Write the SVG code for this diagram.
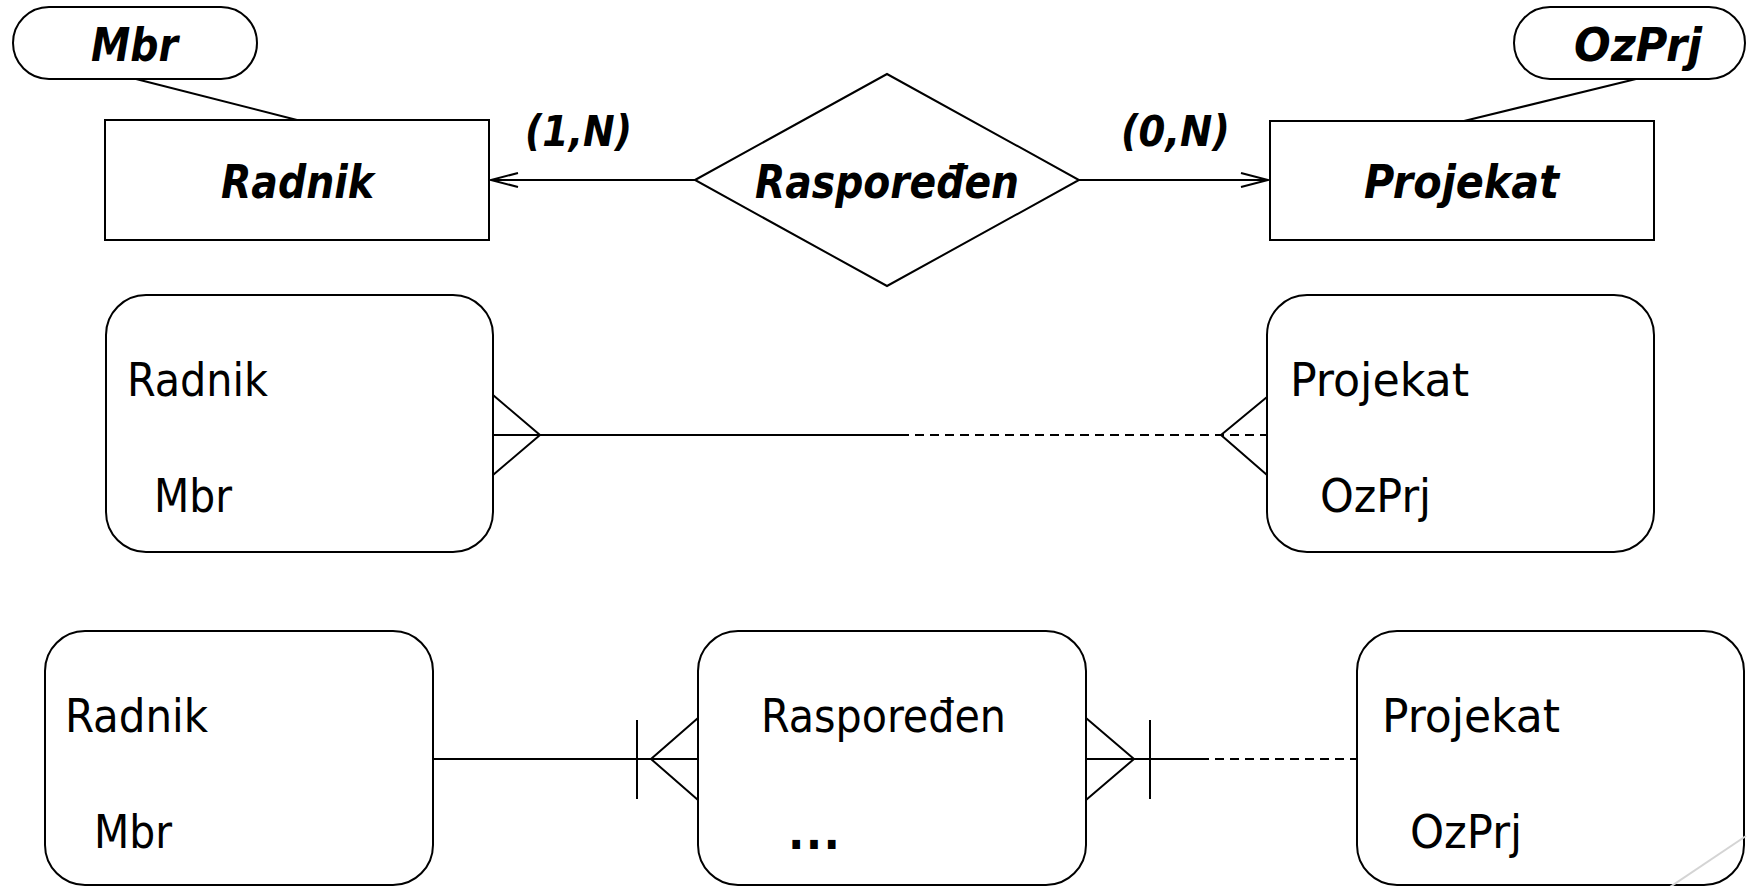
<svg xmlns="http://www.w3.org/2000/svg" width="1747" height="886" viewBox="0 0 1747 886">
<style>
.shape{fill:#fff;stroke:#000;stroke-width:2}
.ln{fill:none;stroke:#000;stroke-width:2}
.dash{fill:none;stroke:#000;stroke-width:2;stroke-dasharray:9 6}
.bi{font-family:"DejaVu Sans Condensed","DejaVu Sans",sans-serif;font-weight:bold;font-style:italic;font-size:47px;fill:#000}
.card{font-family:"DejaVu Sans Condensed","DejaVu Sans",sans-serif;font-size:46px;fill:#000}
</style>
<defs>
<marker id="open" markerUnits="userSpaceOnUse" markerWidth="32" markerHeight="18" refX="29" refY="9" orient="auto">
<path d="M2,2 L29,9 L2,16" fill="none" stroke="#000" stroke-width="2"/>
</marker>
</defs>
<rect width="1747" height="886" fill="#fff"/>
<g id="connectors">
<line class="ln" x1="136" y1="79" x2="297" y2="120"/>
<line class="ln" x1="1636" y1="79" x2="1464" y2="121"/>
<line class="ln" x1="695" y1="180" x2="491" y2="180" marker-end="url(#open)"/>
<line class="ln" x1="1079" y1="180" x2="1268" y2="180" marker-end="url(#open)"/>
<line class="ln" x1="493" y1="435" x2="900" y2="435"/>
<line class="dash" x1="900" y1="435" x2="1267" y2="435"/>
<polyline class="ln" points="493,395 540,435 493,475"/>
<polyline class="ln" points="1267,397 1221,435 1267,475"/>
<line class="ln" x1="433" y1="759" x2="698" y2="759"/>
<line class="ln" x1="637" y1="720" x2="637" y2="799"/>
<polyline class="ln" points="698,718 651,759 698,800"/>
<line class="ln" x1="1086" y1="759" x2="1200" y2="759"/>
<line class="dash" x1="1200" y1="759" x2="1357" y2="759"/>
<polyline class="ln" points="1086,718 1134,759 1086,800"/>
<line class="ln" x1="1150" y1="720" x2="1150" y2="799"/>
</g>
<g id="mbr-attr">
<rect class="shape" x="13" y="7" width="244" height="72" rx="36"/>
<text class="bi" x="91" y="61" textLength="87" lengthAdjust="spacingAndGlyphs">Mbr</text>
</g>
<g id="ozprj-attr">
<rect class="shape" x="1514" y="7" width="231" height="72" rx="36"/>
<text class="bi" x="1574" y="61" textLength="128" lengthAdjust="spacingAndGlyphs">OzPrj</text>
</g>
<g id="radnik-entity">
<rect class="shape" x="105" y="120" width="384" height="120"/>
<text class="bi" x="221" y="198" textLength="153" lengthAdjust="spacingAndGlyphs">Radnik</text>
</g>
<g id="projekat-entity">
<rect class="shape" x="1270" y="121" width="384" height="119"/>
<text class="bi" x="1364" y="198" textLength="195" lengthAdjust="spacingAndGlyphs">Projekat</text>
</g>
<g id="rasporeden-rel">
<polygon class="shape" points="695,180 887,74 1079,180 887,286"/>
<text class="bi" x="755" y="198" textLength="264" lengthAdjust="spacingAndGlyphs">Raspoređen</text>
</g>
<g id="card-1n">
<text class="bi" style="font-size:42px" x="525" y="146" textLength="107" lengthAdjust="spacingAndGlyphs">(1,N)</text>
</g>
<g id="card-0n">
<text class="bi" style="font-size:42px" x="1121" y="146" textLength="109" lengthAdjust="spacingAndGlyphs">(0,N)</text>
</g>
<g id="radnik-2">
<rect class="shape" x="106" y="295" width="387" height="257" rx="40"/>
<text class="card" x="127" y="396" textLength="141" lengthAdjust="spacingAndGlyphs">Radnik</text>
<text class="card" x="154" y="512" textLength="78" lengthAdjust="spacingAndGlyphs">Mbr</text>
</g>
<g id="projekat-2">
<rect class="shape" x="1267" y="295" width="387" height="257" rx="40"/>
<text class="card" x="1290" y="396" textLength="179" lengthAdjust="spacingAndGlyphs">Projekat</text>
<text class="card" x="1320" y="512" textLength="111" lengthAdjust="spacingAndGlyphs">OzPrj</text>
</g>
<g id="radnik-3">
<rect class="shape" x="45" y="631" width="388" height="254" rx="40"/>
<text class="card" x="65" y="732" textLength="143" lengthAdjust="spacingAndGlyphs">Radnik</text>
<text class="card" x="94" y="848" textLength="78" lengthAdjust="spacingAndGlyphs">Mbr</text>
</g>
<g id="rasporeden-3">
<rect class="shape" x="698" y="631" width="388" height="254" rx="40"/>
<text class="card" x="761" y="732" textLength="245" lengthAdjust="spacingAndGlyphs">Raspoređen</text>
<text class="card" style="font-weight:bold;font-size:48px" x="788" y="849" textLength="52" lengthAdjust="spacing">...</text>
</g>
<g id="projekat-3">
<rect class="shape" x="1357" y="631" width="387" height="254" rx="40"/>
<text class="card" x="1382" y="732" textLength="178" lengthAdjust="spacingAndGlyphs">Projekat</text>
<text class="card" x="1410" y="848" textLength="112" lengthAdjust="spacingAndGlyphs">OzPrj</text>
</g>
<line x1="1670" y1="887" x2="1746" y2="836" stroke="#d4d4d4" stroke-width="2"/>
</svg>
